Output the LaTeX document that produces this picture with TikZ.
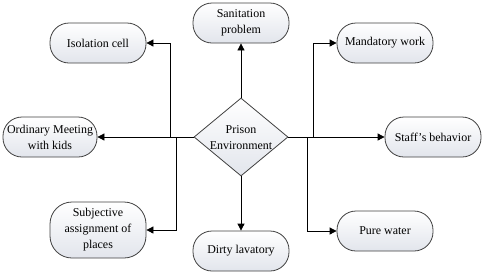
\documentclass[tikz,border=0pt]{standalone}
\usepackage{fontspec}
\setmainfont{Liberation Serif}
\usetikzlibrary{shapes.geometric,arrows.meta}
\tikzset{
  pill/.style={draw=black!75, line width=0.8bp, rounded corners=19bp,
    top color=white, bottom color={rgb,255:red,226;green,229;blue,236},
    minimum width=96bp, minimum height=40bp, inner sep=1bp, align=center,
    font=\fontsize{12}{16}\selectfont},
  conn/.style={draw=black, line width=0.8bp, -{Triangle[length=7bp,width=7bp]}},
  link/.style={draw=black, line width=0.8bp},
}
\begin{document}
\begin{tikzpicture}[x=1bp,y=-1bp]
\useasboundingbox (0,0) rectangle (485,274);
\node[draw=black!75, line width=0.8bp, diamond, top color=white,
  bottom color={rgb,255:red,226;green,229;blue,236},
  minimum width=94bp, minimum height=78bp, inner sep=0pt] (env) at (241,137) {};
\node[align=center, font=\fontsize{12}{16}\selectfont] (envtext) at (241,138) {Prison\\Environment};

\node[pill] (iso) at (98,43) {Isolation cell};
\node[pill] (san) at (241,23) {Sanitation\\problem};
\node[pill] (mand) at (385,43) {Mandatory work};
\node[pill, minimum width=94bp] (ord) at (50,137) {Ordinary Meeting\\with kids};
\node[pill] (staff) at (433,137) {Staff’s behavior};
\node[pill, minimum height=56bp, rounded corners=22bp] (subj) at (98,230) {Subjective\\assignment of\\places};
\node[pill] (dirty) at (241,251) {Dirty lavatory};
\node[pill] (pure) at (385,231) {Pure water};

\coordinate (lup) at (170,137);
\coordinate (ldn) at (176,137);
\coordinate (rup) at (313,137);
\coordinate (rdn) at (307,137);

\draw[conn] (env.north) -- (san.south);
\draw[conn] (env.south) -- (dirty.north);
\draw[conn] (env.west) -- (ord.east);
\draw[conn] (env.east) -- (staff.west);
\draw[conn] (lup) |- (iso.east);
\draw[conn] (ldn) |- (subj.east);
\draw[conn] (rup) |- (mand.west);
\draw[conn] (rdn) |- (pure.west);
\end{tikzpicture}
\end{document}
